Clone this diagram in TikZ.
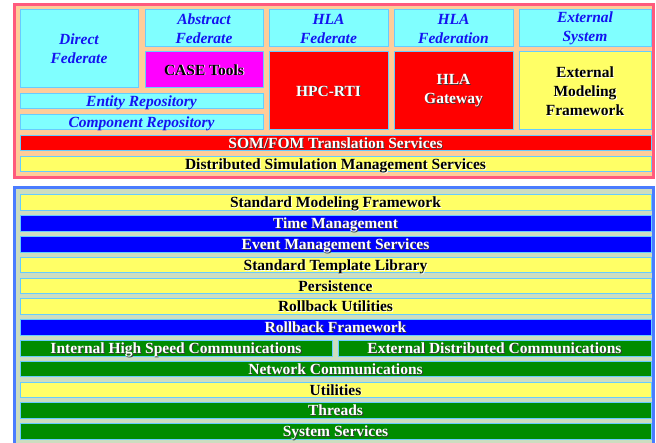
\documentclass[tikz,border=0pt]{standalone}
\usepackage{fontspec}
\setmainfont{Liberation Serif}
\usetikzlibrary{fit}
\definecolor{cyancell}{HTML}{80FFFF}
\definecolor{magcell}{HTML}{FF00FF}
\definecolor{redcell}{HTML}{FF0000}
\definecolor{yelcell}{HTML}{FFFF66}
\definecolor{bluecell}{HTML}{0000FF}
\definecolor{greencell}{HTML}{008C00}
\definecolor{peach}{HTML}{FFCC99}
\definecolor{pinkborder}{HTML}{FF5A7D}
\definecolor{greyfill}{HTML}{CCDDC0}
\definecolor{blueborder}{HTML}{4A7CFF}
\definecolor{cellline}{HTML}{66CCFF}
\definecolor{itblue}{HTML}{1414F0}
\definecolor{darkshadow}{HTML}{3A3A3A}
\tikzset{
  cellbox/.style={draw=cellline, line width=1pt, inner sep=0pt, outer sep=0pt},
  txt/.style={font=\fontsize{15.5}{19}\selectfont\bfseries, align=center, inner sep=0pt},
  itxt/.style={font=\fontsize{15.5}{19}\selectfont\bfseries\itshape, align=center, inner sep=0pt, text=itblue},
  oneline/.style={text height=10.2pt, text depth=0pt},
  topframe/.style={draw=pinkborder, line width=3pt, fill=peach},
  botframe/.style={draw=blueborder, line width=3pt, fill=greyfill},
}
% name, x1, y1, x2, y2, fill, text colour, shadow colour, extra text style, text
\newcommand\scell[9]{%
  \node[cellbox, fill=#6, fit={(#2,#3) (#4,#5)}] (#1) {};
  \node[txt, #9, text=#8] at ([shift={(0.9pt,-0.9pt)}]#1.center) {\cellcontent};
  \node[txt, #9, text=#7] at (#1.center) {\cellcontent};
}
\newcommand\icell[6]{%
  \node[cellbox, fill=cyancell, fit={(#2,#3) (#4,#5)}] (#1) {};
  \node[itxt, #6] at (#1.center) {\cellcontent};
}
\newcommand\cellcontent{}
\begin{document}
\begin{tikzpicture}[x=1pt, y=-1pt]
\useasboundingbox (0,0) rectangle (656,443);
\clip (0,0) rectangle (656,443);
\fill[white] (0,0) rectangle (656,443);
% frames
\draw[topframe] (14.5,4.8) rectangle (653.5,177.2);
\draw[botframe] (14.5,188) rectangle (653.5,460);
% top cells
\renewcommand\cellcontent{Direct\\Federate}\icell{direct}{20}{10}{138}{88}{}
\renewcommand\cellcontent{Abstract\\Federate}\icell{abstract}{145}{10}{263}{47}{}
\renewcommand\cellcontent{CASE Tools}\scell{case}{145}{52}{263}{88}{magcell}{black}{white}{oneline}
\renewcommand\cellcontent{HLA\\Federate}\icell{hlafed}{269}{10}{388}{47}{}
\renewcommand\cellcontent{HPC-RTI}\scell{hpcrti}{269}{52}{388}{130}{redcell}{white}{darkshadow}{oneline}
\renewcommand\cellcontent{Entity Repository}\icell{entity}{20}{94}{263}{109}{oneline}
\renewcommand\cellcontent{Component Repository}\icell{component}{20}{115}{263}{130}{oneline}
\renewcommand\cellcontent{HLA\\Federation}\icell{hlafedn}{394}{10}{513}{47}{}
\renewcommand\cellcontent{HLA\\Gateway}\scell{gateway}{394}{52}{513}{130}{redcell}{white}{darkshadow}{}
\renewcommand\cellcontent{External\\System}\icell{extsys}{519}{10}{651}{47}{}
\renewcommand\cellcontent{External\\Modeling\\Framework}\scell{extmf}{519}{52}{651}{130}{yelcell}{black}{white}{}
\renewcommand\cellcontent{SOM/FOM Translation Services}\scell{somfom}{20}{135.5}{651}{151}{redcell}{white}{darkshadow}{oneline}
\renewcommand\cellcontent{Distributed Simulation Management Services}\scell{dsms}{20}{156.5}{651}{172}{yelcell}{black}{white}{oneline}
% bottom bars
\renewcommand\cellcontent{Standard Modeling Framework}\scell{smf}{20}{195}{651}{210.6}{yelcell}{black}{white}{oneline}
\renewcommand\cellcontent{Time Management}\scell{time}{20}{215.8}{651}{231.4}{bluecell}{white}{darkshadow}{oneline}
\renewcommand\cellcontent{Event Management Services}\scell{event}{20}{236.6}{651}{252.2}{bluecell}{white}{darkshadow}{oneline}
\renewcommand\cellcontent{Standard Template Library}\scell{stl}{20}{257.4}{651}{273}{yelcell}{black}{white}{oneline}
\renewcommand\cellcontent{Persistence}\scell{pers}{20}{278.2}{651}{293.8}{yelcell}{black}{white}{oneline}
\renewcommand\cellcontent{Rollback Utilities}\scell{rbu}{20}{299}{651}{314.6}{yelcell}{black}{white}{oneline}
\renewcommand\cellcontent{Rollback Framework}\scell{rbf}{20}{319.8}{651}{335.4}{bluecell}{white}{darkshadow}{oneline}
\renewcommand\cellcontent{Internal High Speed Communications}\scell{ihsc}{20}{340.6}{332}{356.2}{greencell}{white}{darkshadow}{oneline}
\renewcommand\cellcontent{External Distributed Communications}\scell{edc}{338}{340.6}{651}{356.2}{greencell}{white}{darkshadow}{oneline}
\renewcommand\cellcontent{Network Communications}\scell{net}{20}{361.4}{651}{377}{greencell}{white}{darkshadow}{oneline}
\renewcommand\cellcontent{Utilities}\scell{util}{20}{382.2}{651}{397.8}{yelcell}{black}{white}{oneline}
\renewcommand\cellcontent{Threads}\scell{threads}{20}{403}{651}{418.6}{greencell}{white}{darkshadow}{oneline}
\renewcommand\cellcontent{System Services}\scell{sys}{20}{423.8}{651}{439.4}{greencell}{white}{darkshadow}{oneline}
\end{tikzpicture}
\end{document}
